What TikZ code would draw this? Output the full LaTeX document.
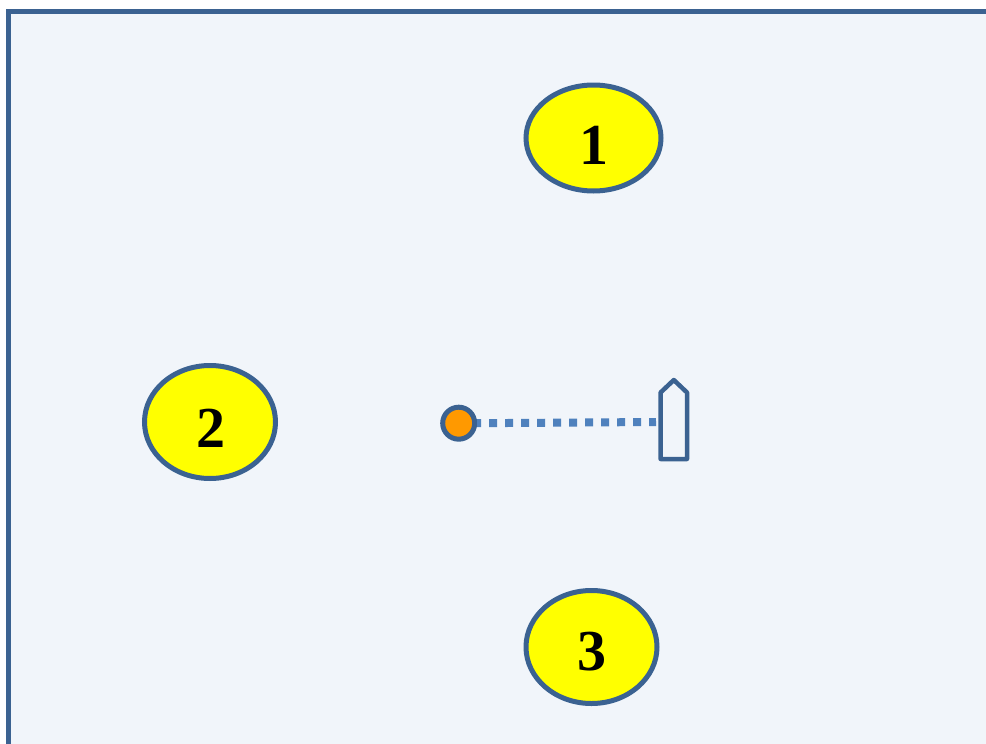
\documentclass[tikz,border=0pt]{standalone}
\usepackage{fontspec}
\setmainfont{Liberation Serif}
\usetikzlibrary{shapes.geometric}
\definecolor{edgeblue}{HTML}{3B6291}
\definecolor{panel}{HTML}{F1F5FA}
\definecolor{dotblue}{HTML}{4F81BD}
\definecolor{dotorange}{HTML}{FF9900}
\definecolor{numfill}{HTML}{FFFF00}
\tikzset{x=1pt,y=-1pt,
 numnode/.style={ellipse,draw=edgeblue,line width=5pt,fill=numfill,inner sep=0pt},
 numtext/.style={font=\bfseries\fontsize{58}{58}\selectfont,inner sep=0pt},
}
\begin{document}
\begin{tikzpicture}
\useasboundingbox (0,0) rectangle (986,744);
\fill[white] (0,0) rectangle (986,744);
\fill[panel] (8.5,11.3) rectangle (986,744);
\draw[edgeblue,line width=5.3pt] (990,11.3) -- (8.5,11.3) -- (8.5,750);
\node[numnode,minimum width=135pt,minimum height=106pt] (n1) at (593.5,138) {};
\node[numtext] (t1) at (593.5,145) {1};
\node[numnode,minimum width=131pt,minimum height=113pt] (n2) at (210,422) {};
\node[numtext] (t2) at (210.5,428) {2};
\node[numnode,minimum width=131pt,minimum height=113pt] (n3) at (591.5,647) {};
\node[numtext] (t3) at (591.5,652) {3};
\node[circle,draw=edgeblue,line width=5pt,fill=dotorange,minimum size=32pt,inner sep=0pt] (dot) at (458.7,423.2) {};
\coordinate (bowl) at (656,422);
\draw[dotblue,line width=8pt,dash pattern=on 8pt off 8pt,dash phase=4pt] (dot.east) -- (bowl);
\draw[edgeblue,line width=4.5pt,line join=round] (660.6,459) -- (660.6,392.5) -- (673.8,380) -- (687,392.5) -- (687,459) -- cycle;
\end{tikzpicture}
\end{document}
